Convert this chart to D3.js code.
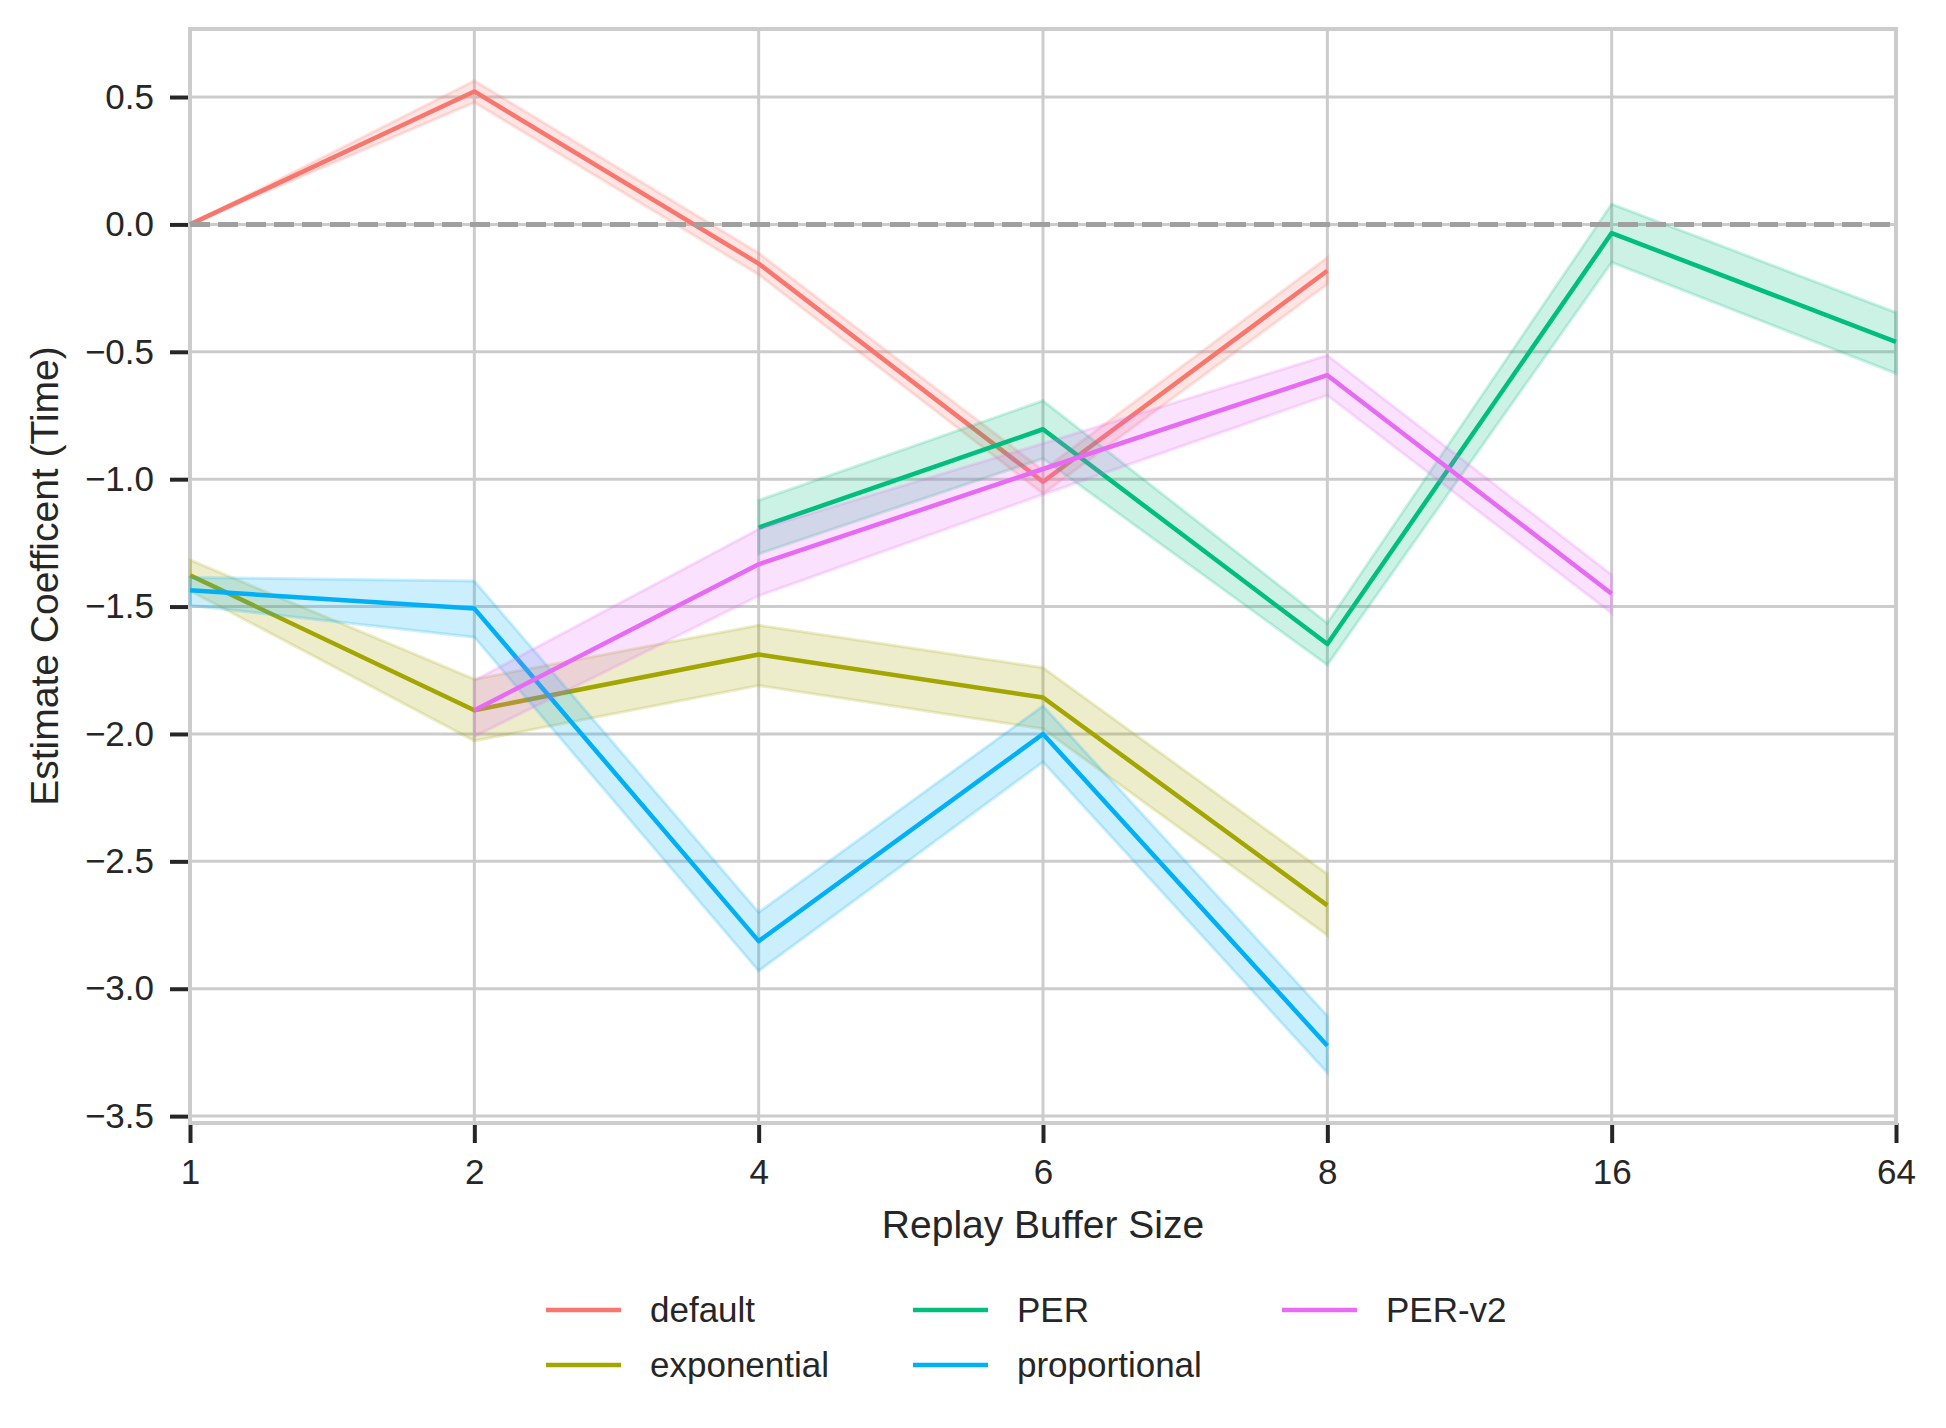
<!DOCTYPE html>
<html>
<head>
<meta charset="utf-8">
<script src="https://cdn.jsdelivr.net/npm/d3@7"></script>
<style>
    body { margin: 0; background: white; }
    text { font-family: "Liberation Sans", Arial, sans-serif; fill: #262626; }
</style>
</head>
<body>
<svg id="chart" width="1946" height="1428"></svg>
<script>

var bufferSizes = ["1", "2", "4", "6", "8", "16", "64"];

var seriesNames = ["default", "exponential", "PER", "proportional", "PER-v2"];

var seriesColors = ["#F8766D", "#A3A500", "#00BF7D", "#00B0F6", "#E76BF3"];

// estimate per buffer size, null where the method was not run
var defaultMean = [0, 0.522, -0.154, -1.01, -0.182, null, null];
var defaultLow = [0, 0.479, -0.197, -1.057, -0.235, null, null];
var defaultHigh = [0, 0.564, -0.112, -0.965, -0.13, null, null];

var exponentialMean = [-1.377, -1.907, -1.688, -1.857, -2.673, null, null];
var exponentialLow = [-1.438, -2.027, -1.81, -1.98, -2.79, null, null];
var exponentialHigh = [-1.317, -1.785, -1.573, -1.74, -2.55, null, null];

var perMean = [null, null, -1.19, -0.804, -1.647, -0.034, -0.461];
var perLow = [null, null, -1.293, -0.919, -1.729, -0.149, -0.585];
var perHigh = [null, null, -1.083, -0.692, -1.565, 0.08, -0.346];

var proportionalMean = [-1.436, -1.508, -2.813, -2.0, -3.224, null, null];
var proportionalLow = [-1.495, -1.62, -2.93, -2.11, -3.33, null, null];
var proportionalHigh = [-1.386, -1.40, -2.70, -1.89, -3.106, null, null];

var perV2Mean = [null, -1.907, -1.334, -0.96, -0.592, -1.45, null];
var perV2Low = [null, -2.01, -1.458, -1.06, -0.671, -1.526, null];
var perV2High = [null, -1.79, -1.196, -0.86, -0.514, -1.375, null];

var yTicks = [-3.5, -3.0, -2.5, -2.0, -1.5, -1.0, -0.5, 0.0, 0.5];
var yLimits = [-3.527, 0.767];

var xTitle = "Replay Buffer Size";
var yTitle = "Estimate Coefficent (Time)";

var means = [defaultMean, exponentialMean, perMean, proportionalMean, perV2Mean];
var lows = [defaultLow, exponentialLow, perLow, proportionalLow, perV2Low];
var highs = [defaultHigh, exponentialHigh, perHigh, proportionalHigh, perV2High];

var axLeft = 190, axRight = 1896, axTop = 29, axBottom = 1123;

var svg = d3.select("#chart");

var x = d3.scalePoint()
    .domain(bufferSizes)
    .range([axLeft, axRight])
    .padding(0);

var y = d3.scaleLinear()
    .domain(yLimits)
    .range([axBottom, axTop]);

function fmt(v) {
    return d3.format(".1f")(v).replace("-", "\u2212");
}

// grid
svg.append("g").selectAll("line")
    .data(bufferSizes)
    .enter().append("line")
    .attr("x1", function (d) { return x(d); })
    .attr("x2", function (d) { return x(d); })
    .attr("y1", axTop)
    .attr("y2", axBottom)
    .style("stroke", "#cccccc")
    .style("stroke-width", 3);

svg.append("g").selectAll("line")
    .data(yTicks)
    .enter().append("line")
    .attr("x1", axLeft)
    .attr("x2", axRight)
    .attr("y1", function (d) { return y(d); })
    .attr("y2", function (d) { return y(d); })
    .style("stroke", "#cccccc")
    .style("stroke-width", 3);

// axes
var xAxis = svg.append("g")
    .attr("transform", "translate(0," + axBottom + ")")
    .call(d3.axisBottom(x).tickSizeOuter(0).tickSize(20).tickPadding(16));

var yAxis = svg.append("g")
    .attr("transform", "translate(" + axLeft + ",0)")
    .call(d3.axisLeft(y).tickValues(yTicks).tickFormat(fmt).tickSizeOuter(0).tickSize(20).tickPadding(16));

[xAxis, yAxis].forEach(function (g) {
    g.select(".domain").remove();
    g.selectAll(".tick line").style("stroke", "#262626").style("stroke-width", 4);
    g.selectAll(".tick text")
        .style("font-size", "35px")
        .style("font-family", "'Liberation Sans', Arial, sans-serif")
        .style("fill", "#262626");
});

// frame
svg.append("rect")
    .attr("x", axLeft)
    .attr("y", axTop)
    .attr("width", axRight - axLeft)
    .attr("height", axBottom - axTop)
    .style("fill", "none")
    .style("stroke", "#cccccc")
    .style("stroke-width", 4);

var plot = svg.append("g");

for (var i = 0; i < seriesNames.length; i++) {

    var pts = [];
    bufferSizes.forEach(function (b, j) {
        if (means[i][j] !== null)
            pts.push({ x: b, m: means[i][j], lo: lows[i][j], hi: highs[i][j] });
    });

    var line = d3.line()
        .x(function (d) { return x(d.x); })
        .y(function (d) { return y(d.m); });

    var band = d3.area()
        .x(function (d) { return x(d.x); })
        .y0(function (d) { return y(d.lo); })
        .y1(function (d) { return y(d.hi); });

    plot.append("path")
        .datum(pts)
        .attr("d", line)
        .style("fill", "none")
        .style("stroke", seriesColors[i])
        .style("stroke-width", 4.5)
        .style("stroke-linejoin", "round");

    plot.append("path")
        .datum(pts)
        .attr("d", band)
        .style("fill", seriesColors[i])
        .style("fill-opacity", 0.2)
        .style("stroke", seriesColors[i])
        .style("stroke-opacity", 0.2)
        .style("stroke-width", 3);
}

// reference line at zero
svg.append("line")
    .attr("x1", axLeft)
    .attr("x2", axRight)
    .attr("y1", y(0))
    .attr("y2", y(0))
    .style("stroke", "#a0a0a0")
    .style("stroke-width", 5)
    .style("stroke-dasharray", "20,8");

// axis titles
svg.append("text")
    .attr("x", (axLeft + axRight) / 2)
    .attr("y", 1238)
    .attr("text-anchor", "middle")
    .style("font-size", "39px")
    .text(xTitle);

svg.append("text")
    .attr("transform", "translate(58," + ((axTop + axBottom) / 2) + ") rotate(-90)")
    .attr("text-anchor", "middle")
    .style("font-size", "39px")
    .text(yTitle);

// legend, 3 columns filled top to bottom
var colX = [546, 913, 1282];
var rowY = [1310, 1365];

var legend = svg.append("g").selectAll("g")
    .data(seriesNames)
    .enter().append("g")
    .attr("transform", function (d, i) {
        return "translate(" + colX[Math.floor(i / 2)] + "," + rowY[i % 2] + ")";
    });

legend.append("line")
    .attr("x1", 0)
    .attr("x2", 75)
    .style("stroke", function (d, i) { return seriesColors[i]; })
    .style("stroke-width", 4.5);

legend.append("text")
    .attr("x", 104)
    .attr("dy", "0.35em")
    .style("font-size", "35px")
    .text(function (d) { return d; });

</script>
</body>
</html>
